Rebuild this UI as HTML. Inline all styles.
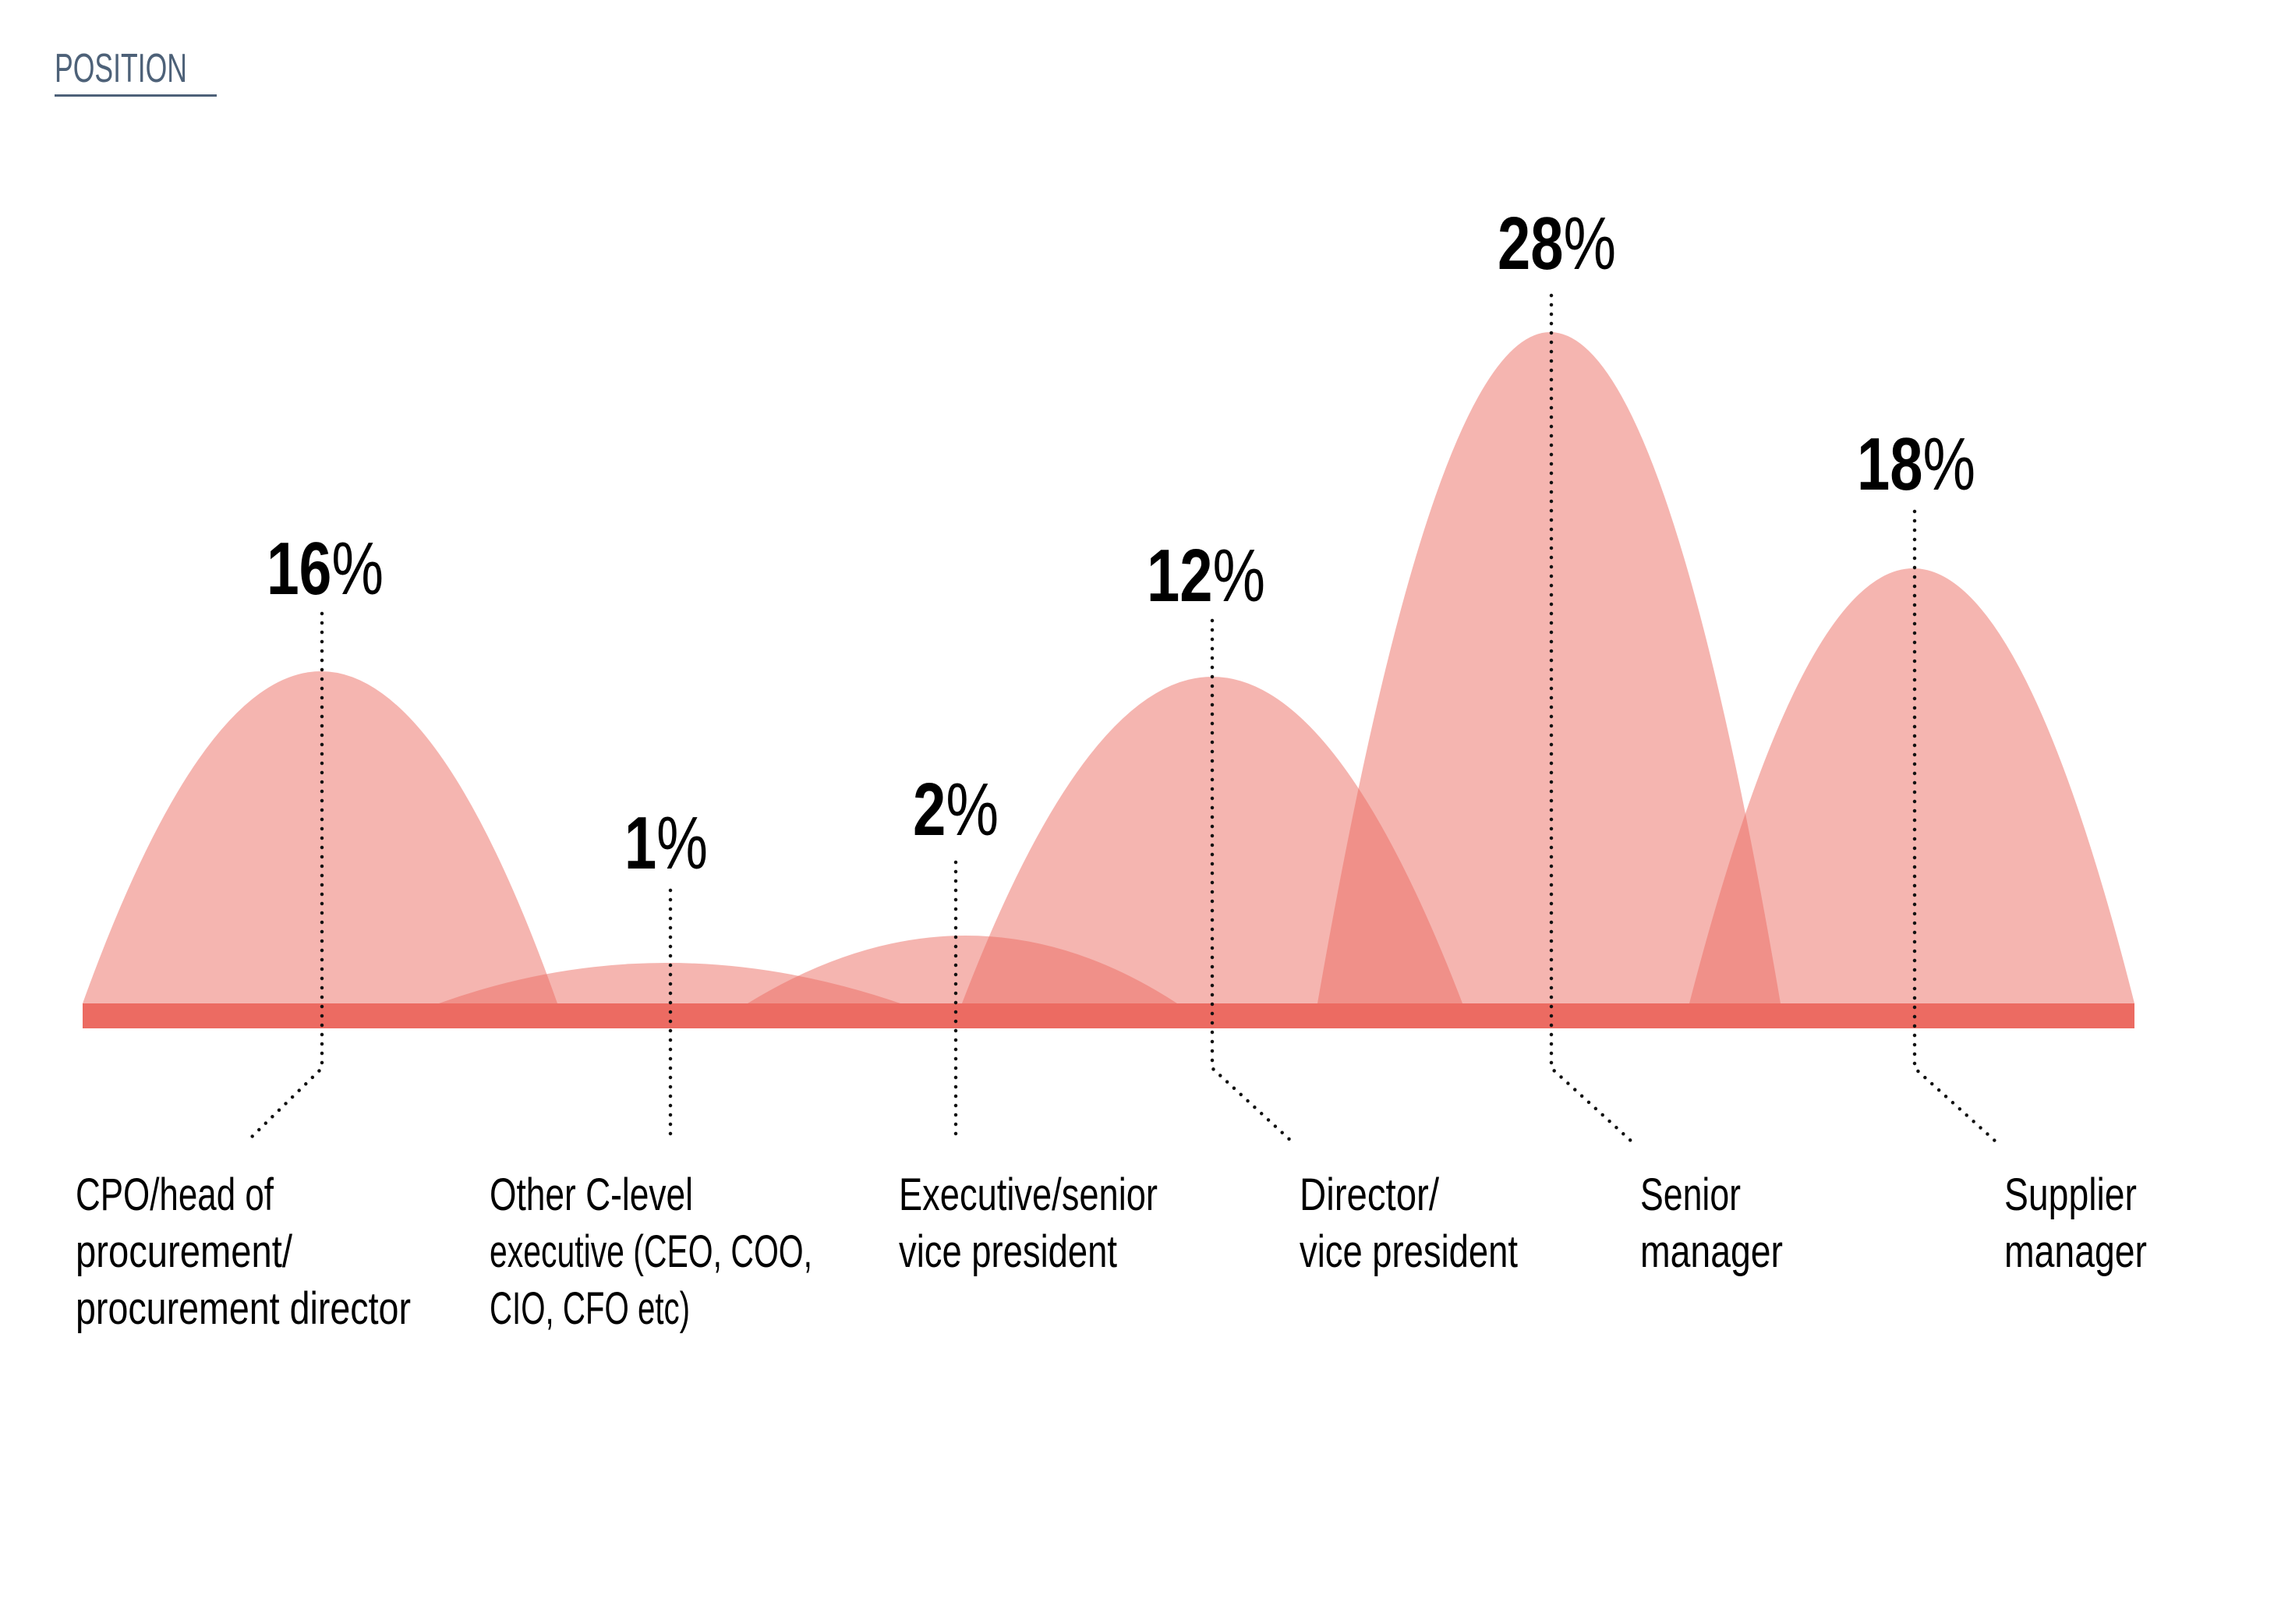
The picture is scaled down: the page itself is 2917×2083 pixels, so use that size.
<!DOCTYPE html>
<html><head><meta charset="utf-8"><style>
html,body{margin:0;padding:0;background:#fff;}
svg{display:block;}
text{font-family:"Liberation Sans Narrow","Liberation Sans",sans-serif;}
</style></head><body>
<svg width="2917" height="2083" viewBox="0 0 2917 2083" xmlns="http://www.w3.org/2000/svg">
<rect width="2917" height="2083" fill="#fff"/>
<text x="70" y="105" font-size="52" fill="#4d6178" textLength="170" lengthAdjust="spacingAndGlyphs">POSITION</text>
<rect x="70" y="121" width="208" height="3" fill="#4d6178"/>
<g fill="#ec6b62" fill-opacity="0.5">
<path d="M106,1287 Q413,435 715,1287 Z"/>
<path d="M563,1287 Q852,1183 1155,1287 Z"/>
<path d="M959,1287 Q1243,1113 1510,1287 Z"/>
<path d="M1234,1287 Q1555,449 1876,1287 Z"/>
<path d="M1690,1287 Q1990,-435 2284,1287 Z"/>
<path d="M2167,1287 Q2456,171 2738,1287 Z"/>
</g>
<rect x="106" y="1287" width="2632" height="32" fill="#ec6b62"/>
<g fill="none" stroke="#111" stroke-width="4.5" stroke-linecap="round" stroke-dasharray="0 12">
<path d="M413,787 L413,1370 L318,1463"/>
<path d="M860,1142 L860,1455"/>
<path d="M1226,1106 L1226,1455"/>
<path d="M1555,796 L1555,1370 L1658,1465"/>
<path d="M1990,379 L1990,1370 L2094,1465"/>
<path d="M2456,656 L2456,1370 L2561,1465"/>
</g>
<g fill="#000" font-size="96">
<text x="342" y="762" textLength="150" lengthAdjust="spacingAndGlyphs"><tspan font-weight="bold">16</tspan>%</text>
<text x="801" y="1114" textLength="107" lengthAdjust="spacingAndGlyphs"><tspan font-weight="bold">1</tspan>%</text>
<text x="1171" y="1071" textLength="110" lengthAdjust="spacingAndGlyphs"><tspan font-weight="bold">2</tspan>%</text>
<text x="1471" y="771" textLength="152" lengthAdjust="spacingAndGlyphs"><tspan font-weight="bold">12</tspan>%</text>
<text x="1921" y="345" textLength="152" lengthAdjust="spacingAndGlyphs"><tspan font-weight="bold">28</tspan>%</text>
<text x="2382" y="628" textLength="152" lengthAdjust="spacingAndGlyphs"><tspan font-weight="bold">18</tspan>%</text>
</g>
<g fill="#000" font-size="58">
<text x="97" y="1552" textLength="254" lengthAdjust="spacingAndGlyphs">CPO/head of</text>
<text x="97" y="1625" textLength="278" lengthAdjust="spacingAndGlyphs">procurement/</text>
<text x="97" y="1698" textLength="430" lengthAdjust="spacingAndGlyphs">procurement director</text>
<text x="628" y="1552" textLength="261" lengthAdjust="spacingAndGlyphs">Other C-level</text>
<text x="628" y="1625" textLength="414" lengthAdjust="spacingAndGlyphs">executive (CEO, COO,</text>
<text x="628" y="1698" textLength="257" lengthAdjust="spacingAndGlyphs">CIO, CFO etc)</text>
<text x="1153" y="1552" textLength="332" lengthAdjust="spacingAndGlyphs">Executive/senior</text>
<text x="1153" y="1625" textLength="280" lengthAdjust="spacingAndGlyphs">vice president</text>
<text x="1667" y="1552" textLength="179" lengthAdjust="spacingAndGlyphs">Director/</text>
<text x="1667" y="1625" textLength="280" lengthAdjust="spacingAndGlyphs">vice president</text>
<text x="2104" y="1552" textLength="129" lengthAdjust="spacingAndGlyphs">Senior</text>
<text x="2104" y="1625" textLength="183" lengthAdjust="spacingAndGlyphs">manager</text>
<text x="2571" y="1552" textLength="170" lengthAdjust="spacingAndGlyphs">Supplier</text>
<text x="2571" y="1625" textLength="183" lengthAdjust="spacingAndGlyphs">manager</text>
</g>
</svg>
</body></html>
